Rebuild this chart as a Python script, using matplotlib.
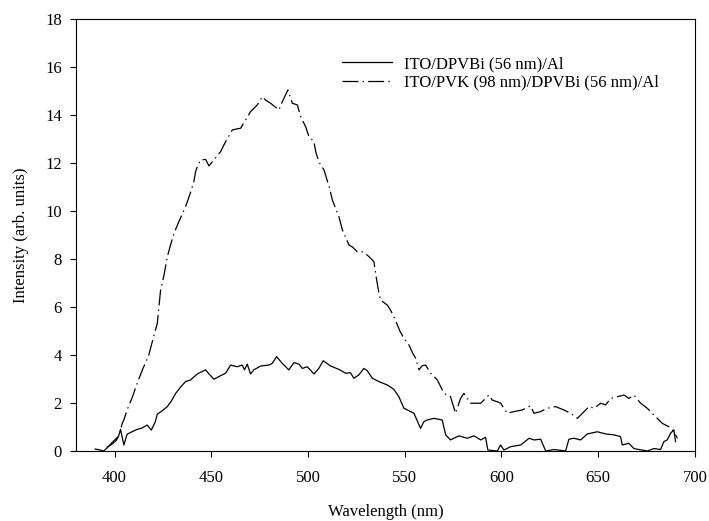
import matplotlib
matplotlib.use("Agg")
import matplotlib.pyplot as plt


# ITO/DPVBi (56 nm)/Al
wl_a = [390, 392, 394.5, 397, 398.8, 400.5, 402, 403.1, 404.8, 406.5, 409, 411.7,
        414, 416.9, 419, 421, 422.1, 425, 427.3, 429.5, 431.6, 434, 436.7, 439.3,
        442.8, 447.1, 448.8, 451.4, 453.9, 457.4, 460, 463.4, 466, 467.2, 468.6,
        470.3, 472, 475.5, 479.8, 481.5, 483.8, 486.7, 490.1, 492.7, 495.3, 497.1,
        499.6, 503.1, 505.6, 507.9, 511.7, 516, 519.5, 522, 523.7, 526.3, 528.9,
        530.6, 533.3, 536.7, 541, 544.4, 547, 549.6, 551.4, 554.8, 558.2, 559.9,
        561.6, 565.1, 569.4, 571.2, 573.7, 578, 582.4, 585.8, 589.3, 591.8, 593,
        597.9, 599.6, 601.3, 604.8, 610, 614.3, 616.9, 620.3, 622.9, 627.2, 633.2,
        634.9, 637.5, 641, 644.4, 649.6, 653.9, 658.2, 661.6, 662.5, 665.9, 668.5,
        675.4, 678.9, 682.3, 684, 685.7, 687.5, 689.2, 690]
int_a = [0.08, 0.05, 0.0, 0.2, 0.36, 0.49, 0.6, 0.9, 0.25, 0.7, 0.8, 0.9,
         0.95, 1.08, 0.87, 1.2, 1.53, 1.7, 1.85, 2.1, 2.4, 2.65, 2.89, 2.96,
         3.21, 3.38, 3.21, 2.99, 3.1, 3.24, 3.58, 3.51, 3.58, 3.38, 3.62,
         3.21, 3.38, 3.54, 3.58, 3.65, 3.93, 3.65, 3.38, 3.68, 3.62, 3.44,
         3.51, 3.21, 3.44, 3.76, 3.54, 3.4, 3.24, 3.26, 3.03, 3.17, 3.44,
         3.35, 3.03, 2.89, 2.75, 2.57, 2.26, 1.78, 1.71, 1.57, 0.94, 1.22,
         1.29, 1.36, 1.29, 0.67, 0.46, 0.63, 0.53, 0.63, 0.46, 0.57, 0.04,
         0.0, 0.25, 0.04, 0.18, 0.25, 0.53, 0.46, 0.49, 0.0, 0.06, 0.0,
         0.49, 0.53, 0.46, 0.71, 0.8, 0.71, 0.67, 0.6, 0.25, 0.32, 0.1,
         0.0, 0.1, 0.06, 0.39, 0.46, 0.74, 0.88, 0.39]

# ITO/PVK (98 nm)/DPVBi (56 nm)/Al
wl_b = [396, 399, 401, 402.5, 404, 404.8, 406.5, 409, 411.7, 414.5, 417.7, 420,
        422.1, 423.8, 425.5, 427.3, 429, 430.7, 433.5, 436.7, 439, 441, 441.9, 443,
        444.5, 447.1, 448.8, 451.4, 454.8, 457.4, 460.9, 465.2, 467.7, 470.3, 473.8,
        476.4, 478.1, 480.7, 482.5, 485, 486.7, 489.6, 491.9, 494.5, 496.2, 498.8,
        500.5, 503.1, 504, 505.6, 508.3, 509.6, 511, 512.6, 516.0, 517.8, 519,
        521.2, 523, 525.5, 528, 529.5, 531.5, 534.1, 535.5, 536.7, 537.5, 539, 541,
        542.5, 544.4, 546, 547.5, 549.6, 552.2, 554, 555.7, 557.4, 559, 560.8,
        563.4, 566.9, 570.3, 573.7, 576.3, 578.9, 580.6, 584.1, 589.3, 593.5,
        595.3, 597.9, 599.6, 603, 606.5, 610.8, 615.1, 616.8, 620.3, 623.7, 628,
        632.3, 635.8, 639.3, 641.9, 645.3, 648, 651.3, 653.9, 656.5, 659.9, 663.4,
        666, 668.5, 672, 675.4, 678.9, 683.2, 686.6, 689.2, 691]
int_b = [0.15, 0.3, 0.45, 0.7, 1.16, 1.29, 1.71, 2.2, 2.82, 3.4, 4.0, 4.7,
         5.32, 6.7, 7.3, 8.1, 8.6, 9.07, 9.6, 10.18, 10.7, 11.22, 11.64, 11.9,
         12.13, 12.15, 11.88, 12.13, 12.47, 12.89, 13.38, 13.45, 13.79, 14.14, 14.42,
         14.76, 14.62, 14.49, 14.37, 14.21, 14.55, 15.04, 14.49, 14.42, 13.93, 13.51,
         13.1, 12.89, 12.47, 12.05, 11.71, 11.36, 11.0, 10.46, 9.76, 9.21, 9.0,
         8.58, 8.5, 8.3, 8.3, 8.24, 8.1, 7.89, 7.13, 6.57, 6.29, 6.2, 6.08,
         5.9, 5.6, 5.3, 5.0, 4.7, 4.42, 4.1, 3.86, 3.38, 3.55, 3.58,
         3.24, 2.96, 2.4, 2.26, 1.57, 2.19, 2.4, 1.99, 1.99, 2.33,
         2.12, 2.05, 1.99, 1.57, 1.64, 1.71, 1.88, 1.57, 1.64, 1.78, 1.85,
         1.71, 1.57, 1.36, 1.57, 1.85, 1.78, 1.99, 1.92, 2.19, 2.26, 2.33,
         2.19, 2.33, 1.99, 1.78, 1.5, 1.15, 1.01, 0.8, 0.53]

labels = ["ITO/DPVBi (56 nm)/Al", "ITO/PVK (98 nm)/DPVBi (56 nm)/Al"]
x_ticks = [400, 450, 500, 550, 600, 650, 700]
y_ticks = [0, 2, 4, 6, 8, 10, 12, 14, 16, 18]


def main():
    plt.rcParams["font.family"] = ["Liberation Serif", "DejaVu Serif"]
    plt.rcParams["font.size"] = 12
    plt.rcParams["lines.scale_dashes"] = False

    fig = plt.figure(figsize=(7.09, 5.21), dpi=100, facecolor="white")
    ax = fig.add_axes([0.107, 0.1344, 0.873, 0.8291])

    ax.plot(wl_a, int_a, color="black", linewidth=0.9, label=labels[0])
    ax.plot(wl_b, int_b, color="black", linewidth=0.9,
            dashes=[11.5, 3, 1, 3], label=labels[1])

    ax.set_xlim(380, 700)
    ax.set_ylim(0, 18)
    ax.set_xticks(x_ticks)
    ax.set_yticks(y_ticks)
    ax.tick_params(axis="both", direction="out", length=4.5, width=0.8,
                   top=False, right=False, labelsize=12)
    ax.tick_params(axis="x", pad=9.3)
    ax.tick_params(axis="y", pad=5.5)
    for sp in ax.spines.values():
        sp.set_linewidth(0.8)

    ax.set_xlabel("Wavelength (nm)", fontsize=12, labelpad=12.5)
    ax.set_ylabel("Intensity (arb. units)", fontsize=12, labelpad=12)

    ax.legend(loc="upper left", bbox_to_anchor=(0.43, 0.914), frameon=False,
              handlelength=3.0, handletextpad=0.7, labelspacing=0.15,
              borderpad=0, borderaxespad=0, fontsize=12)

    fig.savefig("out.png", dpi=100)


if __name__ == "__main__":
    main()
